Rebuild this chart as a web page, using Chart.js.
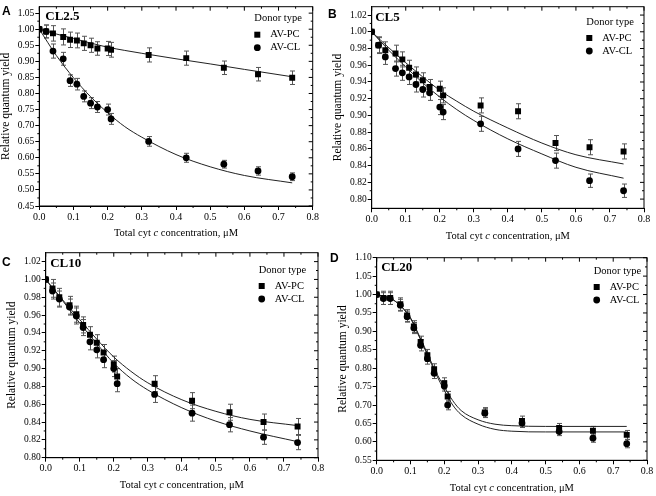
<!DOCTYPE html>
<html>
<head>
<meta charset="utf-8">
<script src="https://cdn.jsdelivr.net/npm/chart.js@4.4.0/dist/chart.umd.min.js"></script>
<style>
  body { margin: 0; background: #fff; width: 656px; height: 496px; position: relative; overflow: hidden; }
  canvas { position: absolute; }
  .tag { position: absolute; font: bold 12px "Liberation Sans", Arial, sans-serif; line-height: 12px; color: #000; }
</style>
</head>
<body>
<canvas id="cA" width="328" height="246" style="left:0;top:0"></canvas>
<canvas id="cB" width="328" height="246" style="left:328px;top:0"></canvas>
<canvas id="cC" width="328" height="250" style="left:0;top:246px"></canvas>
<canvas id="cD" width="328" height="250" style="left:328px;top:246px"></canvas>
<div class="tag" style="left:2px;top:5px">A</div>
<div class="tag" style="left:328px;top:8px">B</div>
<div class="tag" style="left:2px;top:256px">C</div>
<div class="tag" style="left:330px;top:252px">D</div>
<script>
// Total cyt c concentration (uM), same for every panel
const conc = [0, 0.02, 0.04, 0.07, 0.09, 0.11, 0.13, 0.15, 0.17, 0.20, 0.21, 0.32, 0.43, 0.54, 0.64, 0.74];

// A - CL2.5
const pcA = [1.000, 0.993, 0.987, 0.976, 0.967, 0.965, 0.956, 0.950, 0.940, 0.940, 0.936, 0.920, 0.910, 0.880, 0.860, 0.849];
const clA = [1.000, 0.993, 0.932, 0.908, 0.840, 0.829, 0.791, 0.770, 0.758, 0.750, 0.721, 0.651, 0.600, 0.580, 0.559, 0.541];
const pcErrA = [0, 0.020, 0.024, 0.025, 0.024, 0.023, 0.022, 0.022, 0.021, 0.022, 0.023, 0.022, 0.022, 0.021, 0.021, 0.021];
const clErrA = [0, 0.020, 0.022, 0.020, 0.018, 0.018, 0.017, 0.017, 0.017, 0.017, 0.017, 0.015, 0.014, 0.012, 0.013, 0.012];
const fitXA = [0, 0.05, 0.1, 0.15, 0.2, 0.25, 0.3, 0.4, 0.5, 0.6, 0.74];
const pcFitA = [1.000, 0.985, 0.971, 0.957, 0.944, 0.934, 0.925, 0.908, 0.892, 0.875, 0.852];
const clFitA = [1.000, 0.918, 0.849, 0.790, 0.740, 0.697, 0.664, 0.610, 0.572, 0.545, 0.522];

// B - CL5
const pcB = [1.000, 0.984, 0.978, 0.974, 0.967, 0.957, 0.949, 0.942, 0.934, 0.932, 0.924, 0.912, 0.905, 0.867, 0.862, 0.857];
const clB = [1.000, 0.984, 0.970, 0.956, 0.951, 0.946, 0.937, 0.931, 0.927, 0.910, 0.904, 0.890, 0.860, 0.846, 0.822, 0.810];
const pcErrB = [0, 0.010, 0.010, 0.010, 0.009, 0.009, 0.009, 0.009, 0.009, 0.009, 0.009, 0.009, 0.009, 0.009, 0.009, 0.009];
const clErrB = [0, 0.009, 0.009, 0.009, 0.009, 0.009, 0.009, 0.009, 0.009, 0.009, 0.009, 0.009, 0.009, 0.009, 0.008, 0.008];
const fitXB = [0, 0.05, 0.1, 0.15, 0.2, 0.25, 0.3, 0.4, 0.5, 0.6, 0.74];
const pcFitB = [1.000, 0.981, 0.963, 0.946, 0.930, 0.917, 0.905, 0.885, 0.867, 0.853, 0.842];
const clFitB = [1.000, 0.978, 0.958, 0.939, 0.922, 0.907, 0.894, 0.872, 0.854, 0.838, 0.825];

// C - CL10
const pcC = [1.000, 0.990, 0.980, 0.971, 0.961, 0.949, 0.938, 0.929, 0.918, 0.905, 0.891, 0.883, 0.864, 0.851, 0.840, 0.835];
const clC = [1.000, 0.987, 0.978, 0.969, 0.959, 0.946, 0.930, 0.921, 0.910, 0.900, 0.883, 0.871, 0.850, 0.837, 0.823, 0.817];
const pcErrC = [0, 0.010, 0.010, 0.010, 0.009, 0.009, 0.009, 0.009, 0.009, 0.009, 0.009, 0.009, 0.009, 0.009, 0.009, 0.009];
const clErrC = [0, 0.009, 0.009, 0.009, 0.009, 0.009, 0.009, 0.009, 0.009, 0.009, 0.009, 0.009, 0.009, 0.008, 0.008, 0.008];
const fitXC = [0, 0.05, 0.1, 0.15, 0.2, 0.25, 0.3, 0.4, 0.5, 0.6, 0.74];
const pcFitC = [1.000, 0.977, 0.955, 0.933, 0.913, 0.897, 0.884, 0.865, 0.852, 0.843, 0.836];
const clFitC = [1.000, 0.976, 0.951, 0.928, 0.906, 0.889, 0.876, 0.856, 0.841, 0.830, 0.818];

// D - CL20
const pcD = [1.000, 0.991, 0.991, 0.974, 0.943, 0.913, 0.871, 0.835, 0.797, 0.759, 0.723, 0.680, 0.657, 0.638, 0.630, 0.619];
const clD = [1.000, 0.989, 0.989, 0.971, 0.940, 0.909, 0.862, 0.826, 0.786, 0.752, 0.700, 0.678, 0.651, 0.628, 0.610, 0.595];
const pcErrD = [0, 0.018, 0.018, 0.017, 0.016, 0.016, 0.016, 0.016, 0.015, 0.015, 0.014, 0.013, 0.013, 0.012, 0.012, 0.012];
const clErrD = [0, 0.016, 0.016, 0.016, 0.015, 0.015, 0.015, 0.015, 0.014, 0.014, 0.013, 0.012, 0.012, 0.011, 0.011, 0.011];
const fitXD = [0, 0.05, 0.1, 0.125, 0.15, 0.175, 0.2, 0.225, 0.25, 0.3, 0.35, 0.4, 0.5, 0.74];
const pcFitD = [1.000, 0.985, 0.937, 0.890, 0.840, 0.790, 0.750, 0.712, 0.685, 0.660, 0.648, 0.644, 0.642, 0.642];
const clFitD = [1.000, 0.985, 0.935, 0.887, 0.836, 0.785, 0.740, 0.700, 0.674, 0.648, 0.634, 0.629, 0.627, 0.627];

const serif = '"Liberation Serif", "Times New Roman", serif';

function pts(xs, ys) {
  return xs.map((x, i) => ({ x: x, y: ys[i] }));
}

// frame, minor / mirrored ticks, error bars, titles and legend
const extras = {
  id: 'extras',
  beforeDatasetsDraw(chart) {
    const { ctx, scales: { y } } = chart;
    ctx.save();
    ctx.strokeStyle = '#555';
    ctx.lineWidth = 1;
    chart.data.datasets.forEach((ds, i) => {
      if (!ds.err) return;
      chart.getDatasetMeta(i).data.forEach((pt, j) => {
        const e = ds.err[j];
        if (!e) return;
        const v = ds.data[j].y;
        const t = y.getPixelForValue(v + e), b = y.getPixelForValue(v - e);
        const x = Math.round(pt.x) + 0.5;
        ctx.beginPath();
        ctx.moveTo(x, t); ctx.lineTo(x, b);
        ctx.moveTo(x - 2.5, t); ctx.lineTo(x + 2.5, t);
        ctx.moveTo(x - 2.5, b); ctx.lineTo(x + 2.5, b);
        ctx.stroke();
      });
    });
    ctx.restore();
  },
  afterDraw(chart, args, p) {
    const { ctx, chartArea: a, scales: { x, y } } = chart;
    ctx.save();
    ctx.strokeStyle = '#000';
    ctx.lineWidth = 1;
    ctx.strokeRect(a.left, a.top, a.right - a.left, a.bottom - a.top);

    const xs = x.ticks.map(t => t.value), ys = y.ticks.map(t => t.value);
    ctx.beginPath();
    xs.forEach((v, i) => {
      const px = x.getPixelForValue(v);
      ctx.moveTo(px, a.top); ctx.lineTo(px, a.top + 4);
      if (i < xs.length - 1) {
        const m = x.getPixelForValue((v + xs[i + 1]) / 2);
        ctx.moveTo(m, a.top); ctx.lineTo(m, a.top + 2);
        ctx.moveTo(m, a.bottom); ctx.lineTo(m, a.bottom + 2);
      }
    });
    ys.forEach((v, i) => {
      const py = y.getPixelForValue(v);
      ctx.moveTo(a.right, py); ctx.lineTo(a.right - 4, py);
      if (i < ys.length - 1) {
        const m = y.getPixelForValue((v + ys[i + 1]) / 2);
        ctx.moveTo(a.right, m); ctx.lineTo(a.right - 2, m);
        ctx.moveTo(a.left, m); ctx.lineTo(a.left - 2, m);
      }
    });
    ctx.stroke();

    ctx.fillStyle = '#000';
    // x axis title with italic "c"
    const parts = [['Total cyt ', ''], ['c', 'italic '], [' concentration, μM', '']];
    let total = 0;
    parts.forEach(pr => { ctx.font = pr[1] + '10.5px ' + serif; pr.w = ctx.measureText(pr[0]).width; total += pr.w; });
    let cx = (a.left + a.right) / 2 - total / 2;
    ctx.textBaseline = 'middle';
    ctx.textAlign = 'left';
    parts.forEach(pr => { ctx.font = pr[1] + '10.5px ' + serif; ctx.fillText(pr[0], cx, a.bottom + 27.5); cx += pr.w; });

    // y axis title
    ctx.save();
    ctx.translate(a.left - 33.5, (a.top + a.bottom) / 2);
    ctx.rotate(-Math.PI / 2);
    ctx.textAlign = 'center';
    ctx.font = '11.5px ' + serif;
    ctx.fillText('Relative quantum yield', 0, 0);
    ctx.restore();

    // panel name
    ctx.font = 'bold 13px ' + serif;
    ctx.fillText(p.name, a.left + p.nameDx, a.top + p.nameDy);

    // legend
    const mx = a.right - p.legDx, ty = a.top + p.legDy;
    ctx.font = '10.5px ' + serif;
    ctx.fillText('Donor type', mx - 3, ty);
    ctx.fillRect(mx - 3, ty + 16 - 3, 6, 6);
    ctx.fillText('AV-PC', mx + 13, ty + 16);
    ctx.beginPath();
    ctx.arc(mx, ty + 29, 3.4, 0, Math.PI * 2);
    ctx.fill();
    ctx.fillText('AV-CL', mx + 13, ty + 29);
    ctx.restore();
  }
};

function makePanel(p) {
  new Chart(document.getElementById(p.id), {
    type: 'scatter',
    data: {
      datasets: [
        { label: 'AV-PC', data: pts(conc, p.pc), err: p.pcErr, pointStyle: 'rect', pointRadius: 4.2,
          backgroundColor: '#000', borderColor: '#000', borderWidth: 0 },
        { label: 'AV-CL', data: pts(conc, p.cl), err: p.clErr, pointStyle: 'circle', pointRadius: 3.4,
          backgroundColor: '#000', borderColor: '#000', borderWidth: 0 },
        { label: 'AV-PC fit', data: pts(p.fitX, p.pcFit), showLine: true, pointRadius: 0,
          borderColor: '#222', borderWidth: 1, cubicInterpolationMode: 'monotone' },
        { label: 'AV-CL fit', data: pts(p.fitX, p.clFit), showLine: true, pointRadius: 0,
          borderColor: '#222', borderWidth: 1, cubicInterpolationMode: 'monotone' }
      ]
    },
    options: {
      responsive: false,
      animation: false,
      events: [],
      layout: { padding: { top: p.t, right: 328 - p.r, left: 0, bottom: 0 } },
      plugins: { legend: { display: false }, tooltip: { enabled: false }, extras: p },
      scales: {
        x: {
          type: 'linear', min: 0, max: 0.8,
          afterFit: s => { s.height = p.h - p.b; },
          ticks: { stepSize: 0.1, includeBounds: false, maxRotation: 0, autoSkip: false, padding: 1,
                   color: '#000', font: { family: serif, size: 10 }, callback: v => v.toFixed(1) },
          grid: { drawOnChartArea: false, tickLength: 4, color: '#000' },
          border: { color: '#000' }
        },
        y: {
          type: 'linear', min: p.yMin, max: p.yMax,
          afterFit: s => { s.width = p.l; },
          ticks: { stepSize: p.yStep, includeBounds: false, autoSkip: false, padding: 1,
                   color: '#000', font: { family: serif, size: 9.5 }, callback: v => v.toFixed(2) },
          grid: { drawOnChartArea: false, tickLength: 4, color: '#000' },
          border: { color: '#000' }
        }
      }
    },
    plugins: [extras]
  });
}

makePanel({ id: 'cA', h: 246, l: 39.3, r: 312.7, t: 4, b: 206, yMin: 0.45, yMax: 1.07, yStep: 0.05,
  pc: pcA, cl: clA, pcErr: pcErrA, clErr: clErrA, fitX: fitXA, pcFit: pcFitA, clFit: clFitA,
  name: 'CL2.5', nameDx: 6, nameDy: 10, legDx: 55.4, legDy: 12 });
makePanel({ id: 'cB', h: 246, l: 43.7, r: 316, t: 4.7, b: 208.3, yMin: 0.789, yMax: 1.03, yStep: 0.02,
  pc: pcB, cl: clB, pcErr: pcErrB, clErr: clErrB, fitX: fitXB, pcFit: pcFitB, clFit: clFitB,
  name: 'CL5', nameDx: 3.5, nameDy: 11, legDx: 54.7, legDy: 15.3 });
makePanel({ id: 'cC', h: 250, l: 45.7, r: 318, t: 6.7, b: 211.7, yMin: 0.80, yMax: 1.03, yStep: 0.02,
  pc: pcC, cl: clC, pcErr: pcErrC, clErr: clErrC, fitX: fitXC, pcFit: pcFitC, clFit: clFitC,
  name: 'CL10', nameDx: 4.5, nameDy: 11, legDx: 56.3, legDy: 17.3 });
makePanel({ id: 'cD', h: 250, l: 48.7, r: 319, t: 11.7, b: 214.3, yMin: 0.55, yMax: 1.10, yStep: 0.05,
  pc: pcD, cl: clD, pcErr: pcErrD, clErr: clErrD, fitX: fitXD, pcFit: pcFitD, clFit: clFitD,
  name: 'CL20', nameDx: 4.5, nameDy: 10, legDx: 50.3, legDy: 13.3 });
</script>
</body>
</html>
